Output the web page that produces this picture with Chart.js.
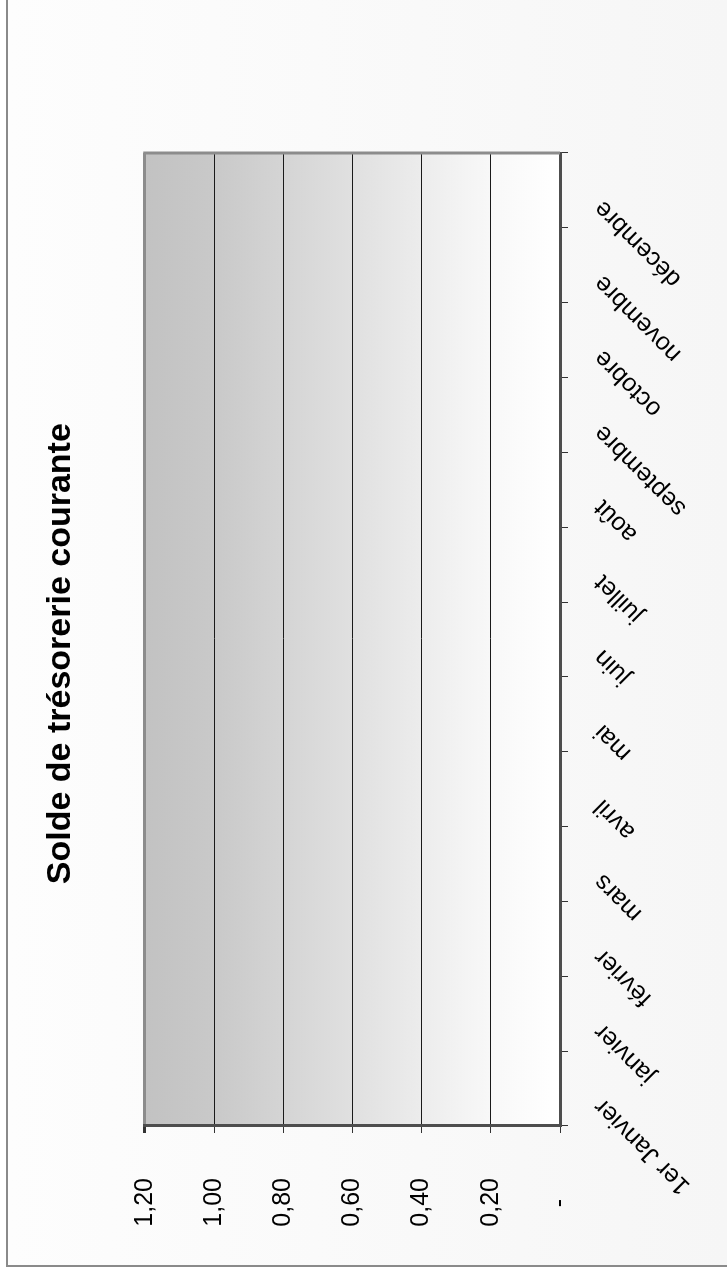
<!DOCTYPE html>
<html>
<head>
<meta charset="utf-8">
<script src="https://cdn.jsdelivr.net/npm/chart.js@4/dist/chart.umd.min.js"></script>
<style>
  body { margin: 0; background: #ffffff; overflow: hidden; }
  /* chart is laid out landscape, then turned a quarter turn to the left */
  #wrap { position: absolute; left: 0; top: 0; width: 1277px; height: 727px;
          transform-origin: 0 0; transform: translate(0, 1277px) rotate(-90deg); }
  #frame { position: absolute; left: 10px; top: 6px; right: 0; bottom: 0;
           border-left: 2px solid #8a8a8a; border-top: 2px solid #8a8a8a;
           background: linear-gradient(#fdfdfd, #f6f6f6); }
  #chart { position: absolute; left: 0; top: 0; }
</style>
</head>
<body>
<div id="wrap">
  <div id="frame"></div>
  <canvas id="chart" width="1277" height="727"></canvas>
</div>
<script>
// data
const categories = ['1er Janvier', 'janvier', 'février', 'mars', 'avril', 'mai', 'juin',
  'juillet', 'août', 'septembre', 'octobre', 'novembre', 'décembre'];
const soldeValues = [0, 0, 0, 0, 0, 0, 0, 0, 0, 0, 0, 0, 0];
const valueTicks = [0, 0.2, 0.4, 0.6, 0.8, 1.0, 1.2];
const valueTickLabels = ['-   ', '0,20', '0,40', '0,60', '0,80', '1,00', '1,20'];
const chartTitle = 'Solde de trésorerie courante';

const FONT = '"Liberation Sans", Arial, sans-serif';

// grey-to-white fill behind the plot, plus the grey right edge
const plotBackground = {
  id: 'plotBackground',
  beforeDraw(chart) {
    const { ctx, chartArea: a } = chart;
    const g = ctx.createLinearGradient(0, a.top, 0, a.bottom);
    g.addColorStop(0, '#c2c2c2');
    g.addColorStop(0.17, '#c9c9c9');
    g.addColorStop(0.5, '#e0e0e0');
    g.addColorStop(0.83, '#f8f8f8');
    g.addColorStop(1, '#ffffff');
    ctx.save();
    ctx.fillStyle = g;
    ctx.fillRect(a.left, a.top, a.right - a.left, a.bottom - a.top);
    ctx.restore();
  },
  afterDraw(chart) {
    const { ctx, chartArea: a } = chart;
    ctx.save();
    ctx.strokeStyle = '#8c8c8c';
    ctx.lineWidth = 3;
    ctx.beginPath();
    ctx.moveTo(a.right, a.top - 1.5);
    ctx.lineTo(a.right, a.bottom);
    ctx.stroke();
    ctx.restore();
  }
};

new Chart(document.getElementById('chart'), {
  type: 'line',
  data: {
    labels: categories,
    datasets: [{
      label: chartTitle,
      data: soldeValues,
      borderColor: '#4d4d4d',
      borderWidth: 2,
      pointRadius: 0
    }]
  },
  options: {
    responsive: false,
    animation: false,
    layout: { padding: { top: 0, left: 0, right: 153, bottom: 0 } },
    plugins: {
      legend: { display: false },
      tooltip: { enabled: false },
      title: {
        display: true,
        fullSize: false,
        text: chartTitle + '   ',
        color: '#000000',
        font: { family: FONT, size: 34, weight: 'bold' },
        padding: { top: 40, bottom: 64 }
      }
    },
    scales: {
      x: {
        offset: true,
        afterFit(scale) { scale.height = 167; },
        grid: { offset: true, drawOnChartArea: false, tickLength: 8, tickColor: '#333333' },
        border: { color: '#4d4d4d', width: 3 },
        ticks: {
          color: '#000000',
          font: { family: FONT, size: 25 },
          minRotation: 45, maxRotation: 45,
          autoSkip: false,
          labelOffset: -14,
          padding: 20
        }
      },
      y: {
        min: 0, max: 1.2,
        afterFit(scale) { scale.width = 151; },
        afterBuildTicks(scale) { scale.ticks = valueTicks.map(v => ({ value: v })); },
        grid: {
          tickLength: 7,
          tickColor: '#333333',
          color: ctx => ctx.index === valueTicks.length - 1 ? '#8c8c8c' : '#1a1a1a',
          lineWidth: ctx => ctx.index === valueTicks.length - 1 ? 3 : 1
        },
        border: { color: '#4d4d4d', width: 3 },
        ticks: {
          color: '#000000',
          font: { family: FONT, size: 25 },
          padding: 45,
          callback: (v, i) => valueTickLabels[i]
        }
      }
    }
  },
  plugins: [plotBackground]
});
</script>
</body>
</html>
